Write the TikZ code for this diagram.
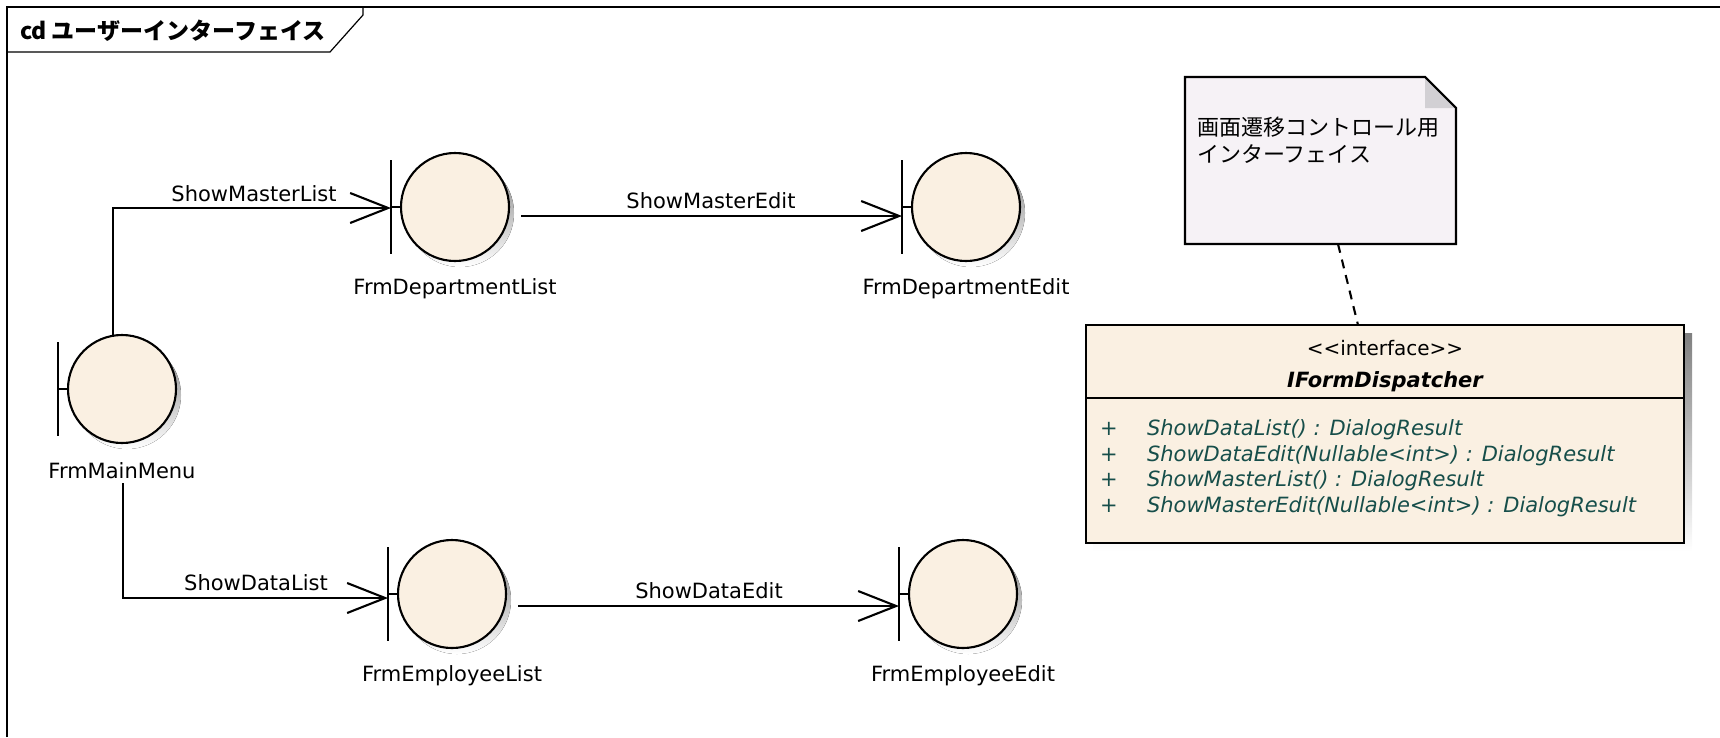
\documentclass[tikz,border=0pt]{standalone}
\usepackage{fontspec}
\setmainfont{DejaVu Sans}
\newfontfamily\cjk{Noto Sans CJK JP}
\usetikzlibrary{arrows.meta,calc}
\definecolor{bfill}{RGB}{250,240,226}
\definecolor{nfill}{RGB}{246,242,246}
\definecolor{ear}{RGB}{210,208,212}
\definecolor{shade}{RGB}{190,190,190}
\definecolor{opc}{RGB}{22,78,74}
\tikzset{
  every node/.style={inner sep=0pt, outer sep=0pt},
  ln/.style={line width=2.1pt},
  ctrl/.style={circle, draw, line width=2.1pt, fill=bfill, minimum size=108pt},
  lbl/.style={font=\fontsize{21}{25}\selectfont},
  nav/.style={ln, -{Straight Barb[length=38pt,width=30pt,line width=2.1pt]}},
  opline/.style={anchor=base west, text=opc, font=\fontsize{21}{25}\selectfont\itshape},
}
\newcommand\bnd[4]{%
  \fill[shade] (#2+5,#3+6) circle[radius=54pt];
  \node[ctrl] (#1) at (#2,#3) {};
  \coordinate (#1-bar) at (#2-64,#3);
  \draw[ln] ($(#1-bar)+(0,-47)$) -- ($(#1-bar)+(0,47)$);
  \draw[ln] (#1-bar) -- (#1.west);
  \node[lbl] (#1-lbl) at (#2,#3+82) {#4};
}
\begin{document}
\begin{tikzpicture}[x=1pt,y=-1pt]
\useasboundingbox (0,0) rectangle (1720,737);
% frame
\draw[line width=1.2pt] (7,737) -- (7,7) -- (1720,7);
\draw[line width=1.2pt] (7,52) -- (330,52) -- (363,15) -- (363,7);
\node[anchor=west, font=\cjk\bfseries\fontsize{23}{27}\selectfont] (title) at (20,31) {cd ユーザーインターフェイス};
% boundaries
\bnd{mm}{122}{389}{FrmMainMenu}
\bnd{dl}{455}{207}{FrmDepartmentList}
\bnd{de}{966}{207}{FrmDepartmentEdit}
\bnd{el}{452}{594}{FrmEmployeeList}
\bnd{ee}{963}{594}{FrmEmployeeEdit}
% connectors
\draw[nav] ($(mm.north)+(-9,0)$) |- ($(dl-bar)+(0,1)$);
\node[lbl] (l1) at (254,194) {ShowMasterList};
\draw[nav] ($(dl.east)+(12,9)$) -- ($(de-bar)+(0,9)$);
\node[lbl] (l2) at (711,201) {ShowMasterEdit};
\draw[nav] ($(mm)+(1,94)$) |- ($(el-bar)+(0,4)$);
\node[lbl] (l3) at (256,583) {ShowDataList};
\draw[nav] ($(el.east)+(12,12)$) -- ($(ee-bar)+(0,12)$);
\node[lbl] (l4) at (709,591) {ShowDataEdit};
% note
\node[minimum width=271pt, minimum height=167pt, anchor=north west] (note) at (1185,77) {};
\fill[nfill] (note.north west) -- ($(note.north east)+(-31,0)$) -- ($(note.north east)+(0,31)$) -- (note.south east) -- (note.south west) -- cycle;
\fill[ear] ($(note.north east)+(-31,0)$) -- ($(note.north east)+(0,31)$) -- ($(note.north east)+(-31,31)$) -- cycle;
\draw[ln, line join=miter] (note.north west) -- ($(note.north east)+(-31,0)$) -- ($(note.north east)+(0,31)$) -- (note.south east) -- (note.south west) -- cycle;
\node[anchor=north west, align=left, font=\cjk\fontsize{22}{27}\selectfont] (notetext) at (1197,117) {画面遷移コントロール用\\インターフェイス};
% interface
\fill[shade] (1093,333) rectangle (1692,551);
\node[draw, ln, fill=bfill, minimum width=598pt, minimum height=218pt, anchor=north west] (ifc) at (1086,325) {};
\draw[ln] (ifc.west |- 0,398) -- (ifc.east |- 0,398);
\node[font=\fontsize{20}{24}\selectfont] (st) at (1385,348) {<{}<interface>{}>};
\node[font=\fontsize{21}{25}\selectfont\bfseries\itshape] (nm) at (1385,382) {IFormDispatcher};
\node[opline] (p1) at (1100,435) {+};
\node[opline] (p2) at (1100,461) {+};
\node[opline] (p3) at (1100,486) {+};
\node[opline] (p4) at (1100,512) {+};
\node[opline] (o1) at (1147,435) {ShowDataList() : DialogResult};
\node[opline] (o2) at (1147,461) {ShowDataEdit(Nullable<int>) : DialogResult};
\node[opline] (o3) at (1147,486) {ShowMasterList() : DialogResult};
\node[opline] (o4) at (1147,512) {ShowMasterEdit(Nullable<int>) : DialogResult};
% note link
\draw[ln, dash pattern=on 9pt off 7pt] ($(note.south west)+(153,0)$) -- ($(ifc.north west)+(272,0)$);
\end{tikzpicture}
\end{document}
